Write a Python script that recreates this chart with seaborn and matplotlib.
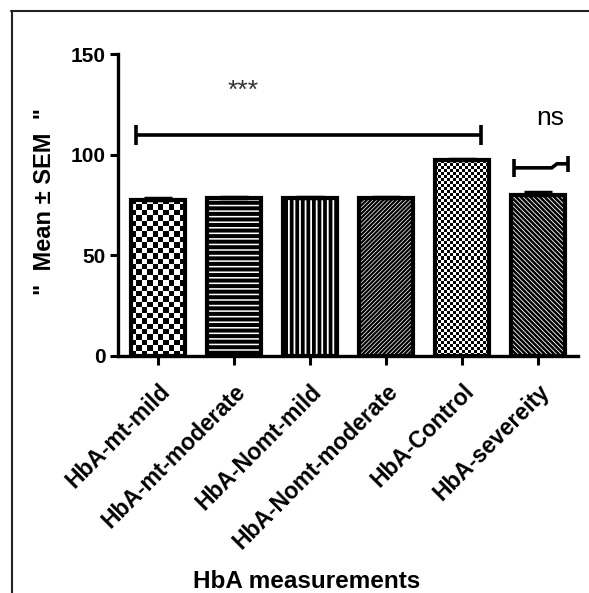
import numpy as np
import pandas as pd
import matplotlib
matplotlib.use("Agg")
import matplotlib.pyplot as plt
from matplotlib.lines import Line2D
import seaborn as sns

# ---- data ----
categories = ["HbA-mt-mild", "HbA-mt-moderate", "HbA-Nomt-mild",
              "HbA-Nomt-moderate", "HbA-Control", "HbA-severeity"]
means = [77.6, 78.2, 78.2, 78.2, 97.4, 80.0]
sems = [0.6, 0.9, 0.9, 0.9, 0.3, 1.6]
y_ticks = [0, 50, 100, 150]
y_label = '"  Mean \u00b1 SEM  "'
x_label = "HbA measurements"

# significance annotations (data coords)
sig_main_x = [-0.29, 4.25]
sig_main_y = 109.6
sig_main_tick = [105.0, 114.6]
sig_main_text = "***"
sig_main_text_pos = (1.12, 131.5)
sig_ns_x = [4.68, 5.18, 5.25, 5.39]
sig_ns_y = [93.4, 93.4, 95.4, 95.4]
sig_ns_ltick = [88.8, 97.8]
sig_ns_rtick = [91.4, 99.3]
sig_ns_text = "ns"
sig_ns_text_pos = (5.16, 118.0)

hatches = [None, "---", "|||", "/" * 8, None, "\\" * 7]
hatch_lw = [1.0, 2.9, 2.7, 1.6, 1.0, 1.8]
checker_cells_px = {0: 5.3, 4: 3.0}

sns.set_style("white")
plt.rcParams["font.family"] = ["Liberation Sans", "DejaVu Sans"]
for k in ["text.color", "axes.labelcolor", "xtick.color", "ytick.color"]:
    plt.rcParams[k] = "black"

W, H = 589, 593
fig = plt.figure(figsize=(W / 100, H / 100), dpi=100)
ax = fig.add_axes([118 / W, 1 - 355.7 / H, (578 - 118) / W, (355.7 - 54) / H])

df = pd.DataFrame({"cat": categories, "val": means})
sns.barplot(data=df, x="cat", y="val", order=categories, color="white",
            saturation=1, edgecolor="black", linewidth=3.0, width=0.71,
            errorbar=None, ax=ax, zorder=3)

ax.set_xlim(-0.526, 5.526)
ax.set_ylim(0, 150)

patches = ax.patches[:len(categories)]
for i, p in enumerate(patches):
    p.set_zorder(3)
    if hatches[i]:
        p.set_hatch(hatches[i])
        if hasattr(p, "set_hatch_linewidth"):
            p.set_hatch_linewidth(hatch_lw[i])

fig.canvas.draw()
# checkerboard fills, clipped to the bars
for i, cell in checker_cells_px.items():
    p = patches[i]
    x0, y0 = p.get_x(), p.get_y()
    w, h = p.get_width(), p.get_height()
    (px0, py0), (px1, py1) = ax.transData.transform([(x0, y0), (x0 + w, y0 + h)])
    nx = max(1, int(round(abs(px1 - px0) / cell)))
    ny = max(1, int(round(abs(py1 - py0) / cell)))
    arr = (np.add.outer(np.arange(ny), np.arange(nx)) % 2).astype(float)
    p.set_facecolor("none")
    im = ax.imshow(arr, cmap="gray", vmin=0, vmax=1, extent=(x0, x0 + w, y0, y0 + h),
                   origin="lower", aspect="auto", interpolation="nearest", zorder=2.5)
    im.set_clip_path(p)

ax.set_xlim(-0.526, 5.526)
ax.set_ylim(0, 150)

# error bars (upper only)
xs = np.arange(len(categories))
ax.errorbar(xs, means, yerr=[np.zeros(len(sems)), sems], fmt="none",
            ecolor="black", elinewidth=2.5, capsize=10, capthick=2.5, zorder=4)

# significance brackets
lw = 2.6
ax.plot(sig_main_x, [sig_main_y, sig_main_y], color="black", lw=lw, solid_capstyle="butt")
for xx in sig_main_x:
    ax.plot([xx, xx], sig_main_tick, color="black", lw=lw, solid_capstyle="butt")
ax.text(*sig_main_text_pos, sig_main_text, ha="center", va="center", fontsize=19,
        color="#333333")
ax.plot(sig_ns_x, sig_ns_y, color="black", lw=lw, solid_capstyle="butt",
        solid_joinstyle="miter")
ax.plot([sig_ns_x[0]] * 2, sig_ns_ltick, color="black", lw=lw, solid_capstyle="butt")
ax.plot([sig_ns_x[-1]] * 2, sig_ns_rtick, color="black", lw=lw, solid_capstyle="butt")
ax.text(*sig_ns_text_pos, sig_ns_text, ha="center", va="center", fontsize=19,
        color="black")

# axes styling
for s in ["top", "right"]:
    ax.spines[s].set_visible(False)
for s in ["left", "bottom"]:
    ax.spines[s].set_linewidth(2.4)
    ax.spines[s].set_color("black")
ax.set_yticks(y_ticks)
ax.set_yticklabels([str(v) for v in y_ticks], fontsize=15, fontweight="bold")
ax.tick_params(axis="y", direction="out", length=6, width=2.2, pad=3, left=True)
ax.tick_params(axis="x", direction="out", length=6.5, width=2.2, pad=11, bottom=True)
ax.set_xticks(xs)
ax.set_xticklabels(categories, fontsize=16.5, fontweight="bold", rotation=45,
                   ha="right", va="top", rotation_mode="anchor")

ax.set_ylabel(y_label, fontsize=17, fontweight="bold")
ax.yaxis.set_label_coords((56 - 118) / 460, 0.51)
ax.set_xlabel(x_label, fontsize=17.5, fontweight="bold")
ax.xaxis.set_label_coords((307 - 118) / 460, (355.7 - 570) / 301.7)

# outer frame lines (top and left)
fig.add_artist(Line2D([11 / W, 1], [1 - 11 / H, 1 - 11 / H], transform=fig.transFigure,
                      color="#222222", lw=1.5))
fig.add_artist(Line2D([12 / W, 12 / W], [0, 1 - 11 / H], transform=fig.transFigure,
                      color="#222222", lw=1.5))

fig.savefig("out.png", dpi=100)
